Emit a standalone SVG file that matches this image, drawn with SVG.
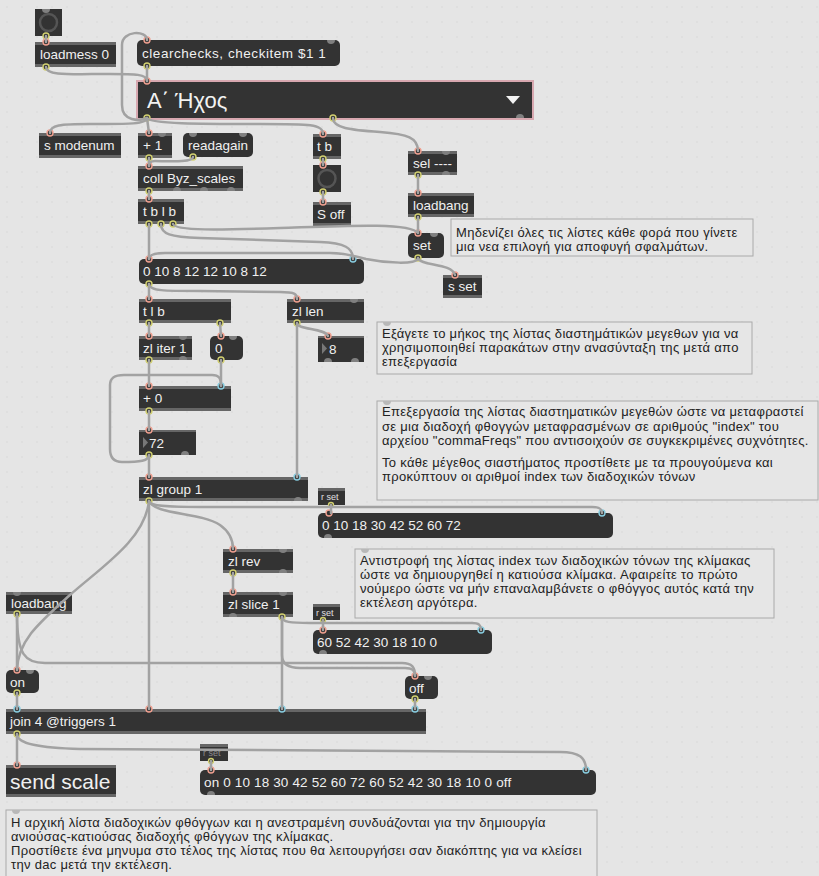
<svg xmlns="http://www.w3.org/2000/svg" width="819" height="876" viewBox="0 0 819 876">
<defs>
<pattern id="grid" width="15" height="15" patternUnits="userSpaceOnUse"><circle cx="7" cy="7" r="0.7" fill="#d6d6d6"/></pattern>
<style>
.o{fill:#333}
.m{fill:#333}
.st{fill:#666}
.t{font-family:"Liberation Sans",Arial,sans-serif;font-size:13.5px;fill:#f0f0f0}
.ts{font-family:"Liberation Sans",Arial,sans-serif;font-size:9px;fill:#e0e0e0}
.c{font-family:"Liberation Sans",Arial,sans-serif;font-size:13px;letter-spacing:0.3px;fill:#222}
.cb{fill:#e6e6e6;stroke:#aaa;stroke-width:1}
.w{fill:none;stroke:#a2a2a2;stroke-width:2.5;stroke-linecap:round}
.hi{fill:#333;stroke:#f0a090;stroke-width:1.4}
.ci{fill:#333;stroke:#88cde0;stroke-width:1.4}
.ou{fill:#333;stroke:#d2d070;stroke-width:1.4}
.g{fill:#808080}
.gt{fill:#b8b8b8}
.ring{fill:none;stroke:#555;stroke-width:2.5}
.tri{fill:#777}
</style>
</defs>
<rect width="819" height="876" fill="#e5e5e5"/>
<rect width="819" height="876" fill="url(#grid)"/>

<g id="bang1"><rect class="o" x="35" y="9" width="27" height="27"/><circle class="ring" cx="48.5" cy="22.5" r="8.5"/><path class="g" d="M42,9 a4,4 0 0 0 8,0z"/><circle class="ou" cx="46" cy="36" r="3"/></g>
<g id="loadmess"><rect class="o" x="35" y="42" width="81" height="25"/><rect class="st" x="35" y="42" width="81" height="3"/><rect class="st" x="35" y="64" width="81" height="3"/><text class="t" x="40" y="59">loadmess 0</text><circle class="hi" cx="46" cy="42" r="3"/><circle class="ou" cx="46" cy="67" r="3"/></g>
<g id="clearchecks"><rect class="m" x="137" y="40" width="203" height="26" rx="5"/><text class="t" x="142" y="58" letter-spacing="0.55">clearchecks, checkitem $1 1</text><path class="g" d="M327,40 a4,4 0 0 0 8,0z"/><circle class="hi" cx="147" cy="40" r="3"/><circle class="ou" cx="147" cy="66" r="3"/></g>
<g id="umenu"><rect x="137" y="81" width="396" height="38" fill="#333" stroke="#d8a8b0" stroke-width="2"/><text x="147" y="108" font-family="'Liberation Sans',Arial,sans-serif" font-size="22" fill="#f2f2f2">Α΄ Ήχος</text><polygon points="506,96 520,96 513,104" fill="#f2f2f2"/><path class="g" d="M516,118 a4,4 0 0 1 8,0z"/><circle class="hi" cx="147" cy="81" r="3"/><circle class="ou" cx="147" cy="118" r="3"/><circle class="ou" cx="333" cy="118" r="3"/></g>
<g id="smodenum"><rect class="o" x="39" y="133" width="82" height="25"/><rect class="st" x="39" y="133" width="82" height="3"/><rect class="st" x="39" y="155" width="82" height="3"/><text class="t" x="44" y="150">s modenum</text><circle class="hi" cx="50" cy="133" r="3"/></g>
<g id="plus1"><rect class="o" x="138" y="133" width="34" height="25"/><rect class="st" x="138" y="133" width="34" height="3"/><rect class="st" x="138" y="155" width="34" height="3"/><text class="t" x="143" y="150">+ 1</text><path class="g" d="M158,133 a4,4 0 0 0 8,0z"/><circle class="hi" cx="149" cy="133" r="3"/><circle class="ou" cx="149" cy="158" r="3"/></g>
<g id="readagain"><rect class="m" x="183" y="133" width="70" height="24" rx="5"/><text class="t" x="188" y="150">readagain</text><path class="g" d="M189,133 a4,4 0 0 0 8,0z"/><path class="g" d="M239,133 a4,4 0 0 0 8,0z"/><circle class="ou" cx="193" cy="157" r="3"/></g>
<g id="coll"><rect class="o" x="138" y="166" width="105" height="25"/><rect class="st" x="138" y="166" width="105" height="3"/><rect class="st" x="138" y="188" width="105" height="3"/><text class="t" x="143" y="183">coll Byz_scales</text><path class="g" d="M173,191 a4,4 0 0 1 8,0z"/><path class="g" d="M200,191 a4,4 0 0 1 8,0z"/><path class="g" d="M227,191 a4,4 0 0 1 8,0z"/><circle class="hi" cx="149" cy="166" r="3"/><circle class="ou" cx="149" cy="191" r="3"/></g>
<g id="tblb"><rect class="o" x="138" y="199" width="46" height="25"/><rect class="st" x="138" y="199" width="46" height="3"/><rect class="st" x="138" y="221" width="46" height="3"/><text class="t" x="143" y="216">t b l b</text><circle class="hi" cx="149" cy="199" r="3"/><circle class="ou" cx="149" cy="224" r="3"/><circle class="ou" cx="161" cy="224" r="3"/><circle class="ou" cx="173" cy="224" r="3"/></g>
<g id="tb"><rect class="o" x="313" y="134" width="28" height="25"/><rect class="st" x="313" y="134" width="28" height="3"/><rect class="st" x="313" y="156" width="28" height="3"/><text class="t" x="317" y="151">t b</text><circle class="hi" cx="323" cy="134" r="3"/><circle class="ou" cx="323" cy="159" r="3"/></g>
<g id="bang2"><rect class="o" x="313" y="165" width="28" height="27"/><circle class="ring" cx="327" cy="178.5" r="8.5"/><circle class="hi" cx="323" cy="165" r="3"/><circle class="ou" cx="323" cy="192" r="3"/></g>
<g id="soff"><rect class="o" x="313" y="202" width="38" height="24"/><rect class="st" x="313" y="202" width="38" height="3"/><rect class="st" x="313" y="223" width="38" height="3"/><text class="t" x="317" y="219">S off</text><circle class="hi" cx="323" cy="202" r="3"/></g>
<g id="sel"><rect class="o" x="408" y="151" width="49" height="24"/><rect class="st" x="408" y="151" width="49" height="3"/><rect class="st" x="408" y="172" width="49" height="3"/><text class="t" x="413" y="168">sel ----</text><path class="g" d="M442,151 a4,4 0 0 0 8,0z"/><path class="g" d="M442,175 a4,4 0 0 1 8,0z"/><circle class="hi" cx="418" cy="151" r="3"/><circle class="ou" cx="418" cy="175" r="3"/></g>
<g id="loadbang1"><rect class="o" x="408" y="193" width="66" height="24"/><rect class="st" x="408" y="193" width="66" height="3"/><rect class="st" x="408" y="214" width="66" height="3"/><text class="t" x="413" y="210">loadbang</text><circle class="hi" cx="418" cy="193" r="3"/><circle class="ou" cx="418" cy="217" r="3"/></g>
<g id="setmsg"><rect class="m" x="408" y="233" width="36" height="25" rx="5"/><text class="t" x="413" y="250">set</text><path class="g" d="M430,233 a4,4 0 0 0 8,0z"/><circle class="hi" cx="418" cy="233" r="3"/><circle class="ou" cx="418" cy="258" r="3"/></g>
<g id="commentA"><rect class="cb" x="451" y="219" width="302" height="37"/><text class="c" x="456" y="237">Μηδενίζει όλες τις λίστες κάθε φορά που γίνετε</text><text class="c" x="456" y="251">μια νεα επιλογή για αποφυγή σφαλμάτων.</text></g>
<g id="sset"><rect class="o" x="443" y="275" width="39" height="23"/><rect class="st" x="443" y="275" width="39" height="3"/><rect class="st" x="443" y="295" width="39" height="3"/><text class="t" x="448" y="291">s set</text><circle class="hi" cx="455" cy="275" r="3"/></g>
<g id="msgIntervals"><rect class="m" x="139" y="259" width="225" height="25" rx="5"/><text class="t" x="143" y="276">0 10 8 12 12 10 8 12</text><circle class="hi" cx="149" cy="259" r="3"/><circle class="ci" cx="353" cy="259" r="3"/><circle class="ou" cx="149" cy="284" r="3"/></g>
<g id="tlb"><rect class="o" x="139" y="299" width="92" height="24"/><rect class="st" x="139" y="299" width="92" height="3"/><rect class="st" x="139" y="320" width="92" height="3"/><text class="t" x="143" y="316">t l b</text><circle class="hi" cx="149" cy="299" r="3"/><circle class="ou" cx="149" cy="323" r="3"/><circle class="ou" cx="220" cy="323" r="3"/></g>
<g id="zllen"><rect class="o" x="287" y="299" width="77" height="24"/><rect class="st" x="287" y="299" width="77" height="3"/><rect class="st" x="287" y="320" width="77" height="3"/><text class="t" x="292" y="316">zl len</text><path class="g" d="M350,299 a4,4 0 0 0 8,0z"/><circle class="hi" cx="297" cy="299" r="3"/><circle class="ou" cx="297" cy="323" r="3"/></g>
<g id="zliter"><rect class="o" x="139" y="336" width="53" height="24"/><rect class="st" x="139" y="336" width="53" height="3"/><rect class="st" x="139" y="357" width="53" height="3"/><text class="t" x="143" y="353">zl iter 1</text><path class="g" d="M179,336 a4,4 0 0 0 8,0z"/><path class="g" d="M179,360 a4,4 0 0 1 8,0z"/><circle class="hi" cx="149" cy="336" r="3"/><circle class="ou" cx="149" cy="360" r="3"/></g>
<g id="zeromsg"><rect class="m" x="210" y="336" width="33" height="24" rx="5"/><text class="t" x="215" y="353">0</text><path class="g" d="M229,336 a4,4 0 0 0 8,0z"/><circle class="hi" cx="221" cy="336" r="3"/><circle class="ou" cx="221" cy="360" r="3"/></g>
<g id="num8"><rect class="o" x="318" y="336" width="46" height="26"/><rect class="st" x="318" y="336" width="46" height="2"/><polygon class="tri" points="322,343 327,348.5 322,354"/><text class="t" x="329" y="354">8</text><path class="g" d="M324,362 a4,4 0 0 1 8,0z"/><path class="g" d="M351,362 a4,4 0 0 1 8,0z"/><circle class="hi" cx="328" cy="336" r="3"/></g>
<g id="commentB"><rect class="cb" x="377" y="322" width="375" height="52"/><path class="gt" d="M383,322 a4,4 0 0 0 8,0z"/><text class="c" x="382" y="338">Εξάγετε το μήκος της λίστας διαστημάτικών μεγεθων για να</text><text class="c" x="382" y="352">χρησιμοποιηθεί παρακάτων στην ανασύνταξη της μετά απο</text><text class="c" x="382" y="366">επεξεργασία</text></g>
<g id="plus0"><rect class="o" x="139" y="386" width="92" height="25"/><rect class="st" x="139" y="386" width="92" height="3"/><rect class="st" x="139" y="408" width="92" height="3"/><text class="t" x="143" y="403">+ 0</text><circle class="hi" cx="149" cy="386" r="3"/><circle class="ci" cx="221" cy="386" r="3"/><circle class="ou" cx="149" cy="411" r="3"/></g>
<g id="num72"><rect class="o" x="139" y="430" width="57" height="25"/><rect class="st" x="139" y="430" width="57" height="2"/><polygon class="tri" points="143,437 148,442.5 143,448"/><text class="t" x="149" y="448">72</text><path class="g" d="M181,455 a4,4 0 0 1 8,0z"/><circle class="hi" cx="149" cy="430" r="3"/><circle class="ou" cx="149" cy="455" r="3"/></g>
<g id="commentC"><rect class="cb" x="377" y="401" width="441" height="99"/><path class="gt" d="M383,401 a4,4 0 0 0 8,0z"/><text class="c" x="382" y="416">Επεξεργασία της λίστας διαστηματικών μεγεθών ώστε να μεταφραστεί</text><text class="c" x="382" y="431">σε μια διαδοχή φθογγών μεταφρασμένων σε αριθμούς "index" του</text><text class="c" x="382" y="445">αρχείου "commaFreqs" που αντισοιχούν σε συγκεκριμένες συχνότητες.</text><text class="c" x="382" y="467">Το κάθε μέγεθος σιαστήματος προστίθετε με τα προυγούμενα και</text><text class="c" x="382" y="481">προκύπτουν οι αριθμοί index των διαδοχικών τόνων</text></g>
<g id="zlgroup"><rect class="o" x="139" y="477" width="169" height="24"/><rect class="st" x="139" y="477" width="169" height="3"/><rect class="st" x="139" y="498" width="169" height="3"/><text class="t" x="143" y="494">zl group 1</text><path class="g" d="M294,501 a4,4 0 0 1 8,0z"/><circle class="hi" cx="149" cy="477" r="3"/><circle class="ci" cx="297" cy="477" r="3"/><circle class="ou" cx="149" cy="501" r="3"/></g>
<g id="rset1"><rect class="o" x="318" y="488" width="27" height="17"/><rect class="st" x="318" y="488" width="27" height="3"/><text class="ts" x="321" y="500">r set</text><circle class="ou" cx="331" cy="505" r="2.5"/></g>
<g id="msgAsc"><rect class="m" x="318" y="513" width="295" height="25" rx="5"/><text class="t" x="322" y="530">0 10 18 30 42 52 60 72</text><path class="g" d="M324,538 a4,4 0 0 1 8,0z"/><circle class="hi" cx="329" cy="513" r="3"/><circle class="ci" cx="602" cy="513" r="3"/></g>
<g id="zlrev"><rect class="o" x="223" y="549" width="70" height="24"/><rect class="st" x="223" y="549" width="70" height="3"/><rect class="st" x="223" y="570" width="70" height="3"/><text class="t" x="228" y="566">zl rev</text><path class="g" d="M279,549 a4,4 0 0 0 8,0z"/><path class="g" d="M279,573 a4,4 0 0 1 8,0z"/><circle class="hi" cx="233" cy="549" r="3"/><circle class="ou" cx="233" cy="573" r="3"/></g>
<g id="commentD"><rect class="cb" x="355" y="549" width="419" height="69"/><path class="gt" d="M361,549 a4,4 0 0 0 8,0z"/><text class="c" x="360" y="565">Αντιστροφή της λίστας index των διαδοχικών τόνων της κλίμακας</text><text class="c" x="360" y="579">ώστε να δημιουργηθεί η κατιούσα κλίμακα. Αφαιρείτε το πρώτο</text><text class="c" x="360" y="593">νούμερο ώστε να μήν επαναλαμβάνετε ο φθόγγος αυτός κατά την</text><text class="c" x="360" y="607">εκτέλεση αργότερα.</text></g>
<g id="zlslice"><rect class="o" x="223" y="592" width="70" height="25"/><rect class="st" x="223" y="592" width="70" height="3"/><rect class="st" x="223" y="614" width="70" height="3"/><text class="t" x="228" y="609">zl slice 1</text><path class="g" d="M279,592 a4,4 0 0 0 8,0z"/><path class="g" d="M229,617 a4,4 0 0 1 8,0z"/><circle class="hi" cx="233" cy="592" r="3"/><circle class="ou" cx="282" cy="617" r="3"/></g>
<g id="rset2"><rect class="o" x="313" y="604" width="27" height="16"/><rect class="st" x="313" y="604" width="27" height="3"/><text class="ts" x="316" y="616">r set</text><circle class="ou" cx="323" cy="620" r="2.5"/></g>
<g id="msgDesc"><rect class="m" x="313" y="630" width="179" height="24" rx="5"/><text class="t" x="317" y="647">60 52 42 30 18 10 0</text><path class="g" d="M319,654 a4,4 0 0 1 8,0z"/><circle class="hi" cx="323" cy="630" r="3"/><circle class="ci" cx="481" cy="630" r="3"/></g>
<g id="loadbang2"><rect class="o" x="6" y="592" width="66" height="22"/><rect class="st" x="6" y="592" width="66" height="3"/><rect class="st" x="6" y="611" width="66" height="3"/><text class="t" x="11" y="608">loadbang</text><path class="g" d="M13,592 a4,4 0 0 0 8,0z"/><circle class="ou" cx="17" cy="614" r="3"/></g>
<g id="onmsg"><rect class="m" x="6" y="670" width="33" height="23" rx="5"/><text class="t" x="10" y="687">on</text><path class="g" d="M26,670 a4,4 0 0 0 8,0z"/><circle class="hi" cx="17" cy="670" r="3"/><circle class="ou" cx="17" cy="693" r="3"/></g>
<g id="offmsg"><rect class="m" x="405" y="676" width="33" height="23" rx="5"/><text class="t" x="409" y="693">off</text><path class="g" d="M424,676 a4,4 0 0 0 8,0z"/><circle class="hi" cx="415" cy="676" r="3"/><circle class="ou" cx="415" cy="699" r="3"/></g>
<g id="join"><rect class="o" x="6" y="709" width="420" height="25"/><rect class="st" x="6" y="709" width="420" height="3"/><rect class="st" x="6" y="731" width="420" height="3"/><text class="t" x="10" y="726">join 4 @triggers 1</text><circle class="ci" cx="17" cy="709" r="3"/><circle class="hi" cx="149" cy="709" r="3"/><circle class="ci" cx="282" cy="709" r="3"/><circle class="ci" cx="415" cy="709" r="3"/><circle class="ou" cx="17" cy="734" r="3"/></g>
<g id="sendscale"><rect class="o" x="6" y="765" width="110" height="32"/><rect class="st" x="6" y="765" width="110" height="3"/><rect class="st" x="6" y="794" width="110" height="3"/><text x="10" y="789" font-family="'Liberation Sans',Arial,sans-serif" font-size="21" fill="#f0f0f0">send scale</text><circle class="hi" cx="17" cy="765" r="3"/></g>
<g id="rset3"><rect class="o" x="200" y="744" width="28" height="17"/><rect class="st" x="200" y="744" width="28" height="3"/><text class="ts" x="203" y="756" fill-opacity="0.5">r set</text><circle class="ou" cx="211" cy="761" r="2.5"/></g>
<g id="msgFull"><rect class="m" x="200" y="770" width="396" height="25" rx="5"/><text class="t" x="204" y="787" letter-spacing="0.15">on 0 10 18 30 42 52 60 72 60 52 42 30 18 10 0 off</text><path class="g" d="M207,795 a4,4 0 0 1 8,0z"/><circle class="hi" cx="211" cy="770" r="3"/><circle class="ci" cx="586" cy="770" r="3"/></g>
<g id="commentE"><rect class="cb" x="6" y="810" width="591" height="70"/><path class="gt" d="M12,810 a4,4 0 0 0 8,0z"/><text class="c" x="11" y="827" letter-spacing="0">Η αρχική λίστα διαδοχικών φθόγγων και η ανεστραμένη συνδυάζονται για την δημιουργία</text><text class="c" x="11" y="841" letter-spacing="0">ανιούσας-κατιούσας διαδοχής φθόγγων της κλίμακας.</text><text class="c" x="11" y="855" letter-spacing="0">Προστίθετε ένα μηνυμα στο τέλος της λίστας που θα λειτουργήσει σαν διακόπτης για να κλείσει</text><text class="c" x="11" y="869" letter-spacing="0">την dac μετά την εκτέλεση.</text></g>

<g id="connectors">
<path class="w" d="M46,36 L46,42"/>
<path class="w" d="M46,67 C46,76 70,74 110,74 C135,74 147,74 147,81"/>
<path class="w" d="M147,66 L147,81"/>
<path class="w" d="M147,118 C140,121 122,122 122,105 L122,45 C122,30 147,30 147,40"/>
<path class="w" d="M147,118 C147,125 120,124 90,124 C60,124 50,125 50,133"/>
<path class="w" d="M147,118 L149,133"/>
<path class="w" d="M147,118 C150,124 200,124 260,124 C310,124 323,124 323,134"/>
<path class="w" d="M333,118 C333,128 350,130 380,132 C408,134 418,138 418,151"/>
<path class="w" d="M149,158 L149,166"/>
<path class="w" d="M193,157 C193,163 165,161 155,161 C150,161 149,163 149,166"/>
<path class="w" d="M149,191 L149,199"/>
<path class="w" d="M149,224 L149,259"/>
<path class="w" d="M161,224 C161,234 170,237 200,238 L320,242 C345,243 353,248 353,259"/>
<path class="w" d="M173,224 C175,231 220,230 280,228 C340,226 410,222 418,233"/>
<path class="w" d="M418,258 C418,265 385,263 366,259 C355,256 345,253 330,253 L165,253 C153,253 149,255 149,259"/>
<path class="w" d="M418,175 L418,193"/>
<path class="w" d="M418,217 L418,233"/>
<path class="w" d="M418,258 C420,266 452,263 455,275"/>
<path class="w" d="M323,159 L323,165"/>
<path class="w" d="M323,192 L323,202"/>
<path class="w" d="M149,284 L149,299"/>
<path class="w" d="M149,284 C149,291 165,291 200,291 L280,292 C295,292 297,294 297,299"/>
<path class="w" d="M149,323 L149,336"/>
<path class="w" d="M220,323 L221,336"/>
<path class="w" d="M149,360 L149,386"/>
<path class="w" d="M221,360 L221,386"/>
<path class="w" d="M149,455 C149,461 140,462 122,462 C113,462 110,457 110,449 L110,385 C110,378 114,375 124,375 L212,375 C219,375 221,378 221,386"/>
<path class="w" d="M149,411 L149,430"/>
<path class="w" d="M149,455 L149,477"/>
<path class="w" d="M297,323 C297,330 325,328 328,336"/>
<path class="w" d="M297,323 L297,477"/>
<path class="w" d="M149,501 C149,506 165,507 200,507 L592,507 C600,507 602,509 602,513"/>
<path class="w" d="M331,505 L331,513"/>
<path class="w" d="M149,501 C155,515 200,512 220,525 C230,532 233,540 233,549"/>
<path class="w" d="M149,501 L149,709"/>
<path class="w" d="M149,501 C145,540 100,568 70,595 C40,622 18,640 17,670"/>
<path class="w" d="M17,614 L17,670"/>
<path class="w" d="M17,614 C17,655 25,663 45,663 L402,663 C412,663 415,667 415,676"/>
<path class="w" d="M282,617 L282,655 C282,665 290,668 300,668 L405,668 C413,668 415,671 415,676"/>
<path class="w" d="M282,617 L282,709"/>
<path class="w" d="M282,617 C282,622 290,623 310,623 L472,623 C479,623 481,625 481,630"/>
<path class="w" d="M323,620 L323,630"/>
<path class="w" d="M233,573 L233,592"/>
<path class="w" d="M17,693 L17,709"/>
<path class="w" d="M415,699 L415,709"/>
<path class="w" d="M17,734 L17,765"/>
<path class="w" d="M17,734 C17,744 40,748 80,749 L560,752 C580,752 586,758 586,770"/>
<path class="w" d="M211,761 L211,770"/>
</g>
</svg>
